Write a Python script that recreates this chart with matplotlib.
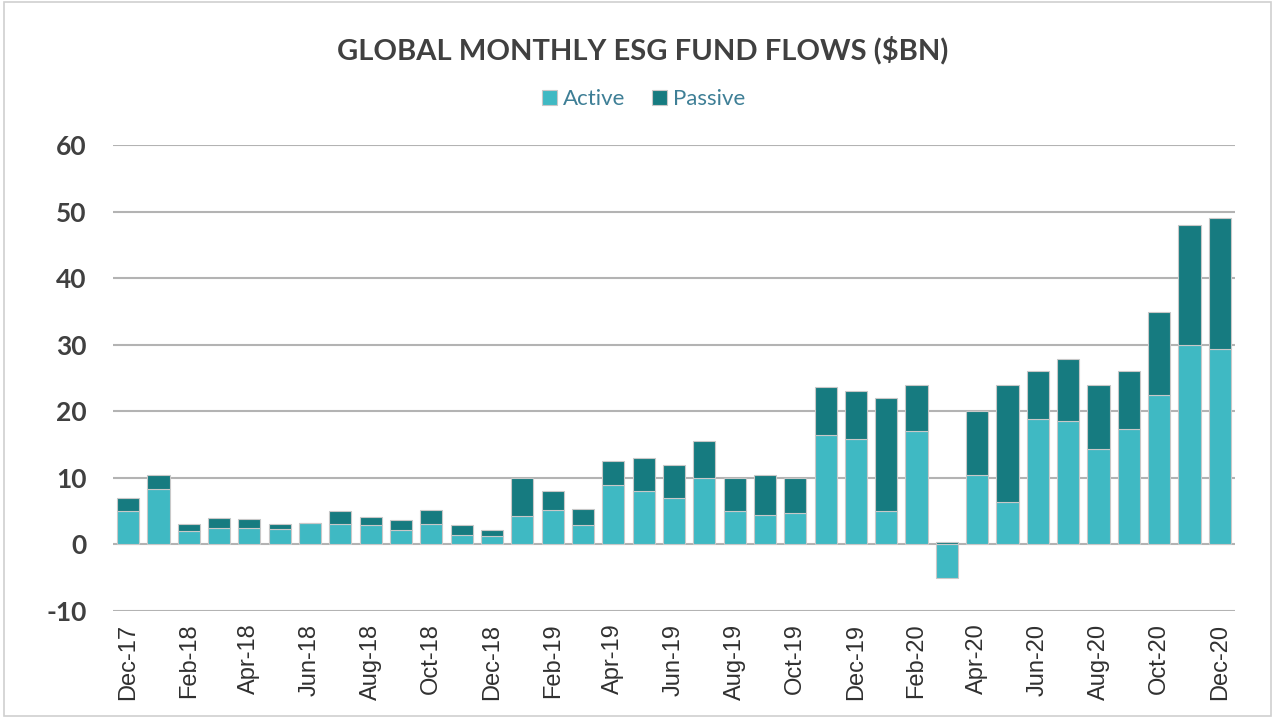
import numpy as np
import matplotlib.pyplot as plt
from matplotlib.patches import Rectangle

plt.rcParams["axes.unicode_minus"] = False

# data ($bn)
months = ["Dec-17",
          "Jan-18", "Feb-18", "Mar-18", "Apr-18", "May-18", "Jun-18",
          "Jul-18", "Aug-18", "Sep-18", "Oct-18", "Nov-18", "Dec-18",
          "Jan-19", "Feb-19", "Mar-19", "Apr-19", "May-19", "Jun-19",
          "Jul-19", "Aug-19", "Sep-19", "Oct-19", "Nov-19", "Dec-19",
          "Jan-20", "Feb-20", "Mar-20", "Apr-20", "May-20", "Jun-20",
          "Jul-20", "Aug-20", "Sep-20", "Oct-20", "Nov-20", "Dec-20"]
active = [5.0,
          8.4, 2.0, 2.4, 2.5, 2.3, 3.2, 3.0, 2.9, 2.1, 3.1, 1.4, 1.3,
          4.2, 5.2, 2.9, 8.9, 8.0, 7.0, 10.0, 5.0, 4.4, 4.7, 16.5, 15.9,
          5.0, 17.0, -5.1, 10.5, 6.4, 18.9, 18.5, 14.4, 17.4, 22.5, 30.0, 29.4]
passive = [2.0,
           2.0, 1.0, 1.5, 1.3, 0.8, 0.0, 2.0, 1.2, 1.5, 2.1, 1.5, 0.9,
           5.8, 2.8, 2.5, 3.6, 5.0, 5.0, 5.6, 5.0, 6.1, 5.3, 7.1, 7.2,
           17.0, 7.0, 0.4, 9.5, 17.5, 7.1, 9.4, 9.5, 8.6, 12.4, 18.0, 19.6]

c_active = "#3fb9c3"
c_passive = "#167b80"
txt = "#404040"

fig = plt.figure(figsize=(12.75, 7.18), dpi=100)
ax = fig.add_axes([0.0886, 0.149, 0.880, 0.649])

x = np.arange(len(months))
act = np.array(active)
bottom = np.clip(act, 0, None)  # negative actives stack below zero, like Excel
ax.bar(x, act, width=0.73, color=c_active, edgecolor="#c8c8c8", linewidth=0.8,
       label="Active", zorder=3)
ax.bar(x, passive, width=0.73, bottom=bottom, color=c_passive, edgecolor="#c8c8c8",
       linewidth=0.8, label="Passive", zorder=3)

ax.set_xlim(-0.5, len(months) - 0.5)
ax.set_ylim(-10, 60)
ax.set_yticks(range(-10, 61, 10))
ax.grid(axis="y", color="#b3b3b3", linewidth=1.5, zorder=0)
for s in ax.spines.values():
    s.set_visible(False)

ax.set_xticks(x[::2])
ax.set_xticklabels(months[::2], rotation=90, fontsize=17, family="Liberation Sans",
                   color="#303030")
ax.tick_params(axis="x", length=0, pad=9)
ax.tick_params(axis="y", length=0, pad=19)
for lab in ax.get_yticklabels():
    lab.set_fontsize(19)
    lab.set_fontweight("bold")
    lab.set_family("Lato")
    lab.set_color(txt)

fig.text(0.504, 0.93, "GLOBAL MONTHLY ESG FUND FLOWS ($BN)", ha="center", va="center",
         fontsize=21, fontweight="bold", family="Lato", color=txt)

leg = fig.legend(loc="center", bbox_to_anchor=(0.505, 0.862), ncol=2, frameon=False,
                 prop={"family": "Lato", "size": 16}, handlelength=0.65, handleheight=0.65,
                 handletextpad=0.3, columnspacing=1.2)
for t in leg.get_texts():
    t.set_color("#3e7f96")

fig.patches.append(Rectangle((0.003, 0.003), 0.994, 0.994, transform=fig.transFigure,
                             fill=False, edgecolor="#d0d0d0", linewidth=1.2))

fig.savefig("out.png", dpi=100)
